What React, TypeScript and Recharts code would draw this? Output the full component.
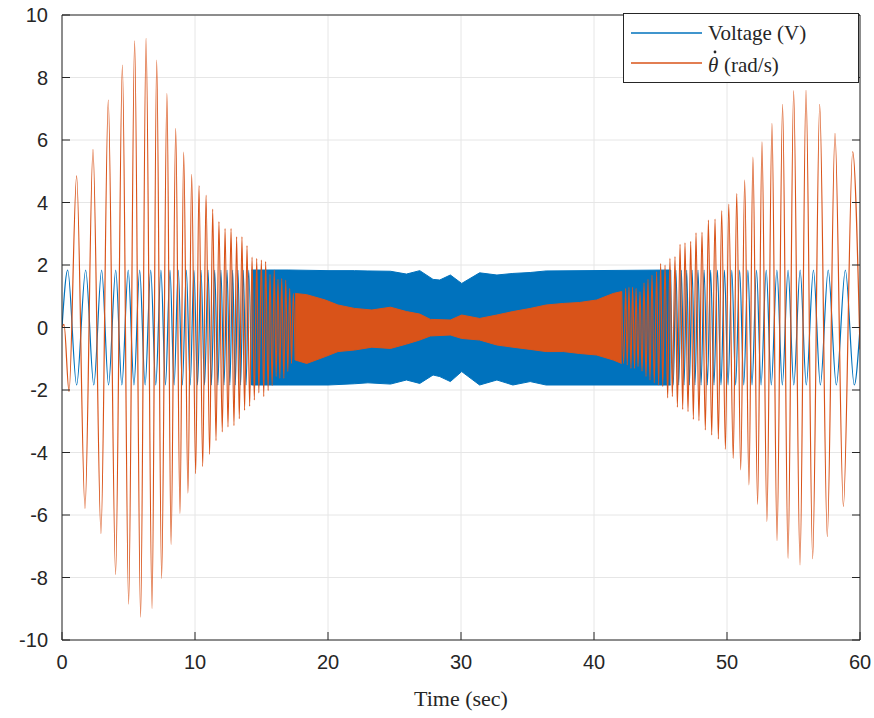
import { Area, CartesianGrid, ComposedChart, Legend, Line, XAxis, YAxis } from "recharts";

const BLUE = "#0072BD";
const ORANGE = "#D95319";
const AXIS = "#262626";

const xTicks = [0, 10, 20, 30, 40, 50, 60];
const yTicks = [-10, -8, -6, -4, -2, 0, 2, 4, 6, 8, 10];

// Voltage: resolved oscillation peaks at the start (sec, V)
const voltageStartTimes = [
  0, 0.43, 1.1, 1.78, 2.39, 2.98, 3.5, 4.04, 4.5, 4.98, 5.41, 5.84, 6.25, 6.67, 7.05, 7.44, 7.78,
  8.12, 8.43, 8.74, 9.05, 9.35, 9.64, 9.92, 10.19, 10.45, 10.72, 10.98, 11.23, 11.48, 11.72, 11.95,
  12.18, 12.41, 12.62, 12.83, 13.03, 13.23, 13.43, 13.63, 13.84, 14.04, 14.24,
];
const voltageStartValues = [
  0, 1.84, -1.84, 1.84, -1.84, 1.84, -1.84, 1.84, -1.84, 1.84, -1.84, 1.84, -1.84, 1.84, -1.84, 1.84,
  -1.84, 1.84, -1.84, 1.84, -1.84, 1.84, -1.84, 1.84, -1.84, 1.84, -1.84, 1.84, -1.84, 1.84, -1.84,
  1.84, -1.84, 1.84, -1.84, 1.84, -1.84, 1.84, -1.84, 1.84, -1.84, 1.84, -1.84,
];

// Voltage: dense middle part, envelope only
const voltageBandTimes = [
  14.24, 17, 20, 22, 23, 24.7, 25.9, 26.9, 27.9, 28.4, 29.2, 30.05, 31.4, 32.7, 33.9, 35.2, 36.4, 45.76,
];
const voltageBandHigh = [
  1.84, 1.84, 1.82, 1.82, 1.81, 1.8, 1.71, 1.82, 1.54, 1.52, 1.68, 1.41, 1.75, 1.68, 1.73, 1.76, 1.81, 1.84,
];
const voltageBandLow = [
  -1.84, -1.84, -1.84, -1.8, -1.77, -1.81, -1.68, -1.79, -1.52, -1.57, -1.73, -1.41, -1.84, -1.68, -1.84,
  -1.73, -1.84, -1.84,
];

// Voltage: resolved peaks at the end
const voltageEndTimes = [
  45.76, 45.96, 46.16, 46.37, 46.57, 46.77, 46.97, 47.17, 47.38, 47.59, 47.82, 48.05, 48.28, 48.52,
  48.77, 49.02, 49.28, 49.55, 49.81, 50.08, 50.36, 50.65, 50.95, 51.26, 51.57, 51.88, 52.22, 52.56,
  52.95, 53.33, 53.75, 54.16, 54.59, 55.02, 55.5, 55.96, 56.5, 57.02, 57.61, 58.22, 58.9, 59.57, 60,
];
const voltageEndValues = [
  1.84, -1.84, 1.84, -1.84, 1.84, -1.84, 1.84, -1.84, 1.84, -1.84, 1.84, -1.84, 1.84, -1.84, 1.84,
  -1.84, 1.84, -1.84, 1.84, -1.84, 1.84, -1.84, 1.84, -1.84, 1.84, -1.84, 1.84, -1.84, 1.84, -1.84,
  1.84, -1.84, 1.84, -1.84, 1.84, -1.84, 1.84, -1.84, 1.84, -1.84, 1.84, -1.84, 0,
];

// Angular velocity: resolved peaks at the start (sec, rad/s)
const rateStartTimes = [
  0, 0.15, 0.53, 1.1, 1.73, 2.33, 2.93, 3.48, 4.03, 4.54, 5.01, 5.46, 5.91, 6.32, 6.77, 7.12, 7.49,
  7.89, 8.2, 8.55, 8.87, 9.15, 9.47, 9.75, 10.05, 10.3, 10.58, 10.83, 11.1, 11.33, 11.58, 11.8, 12.05,
  12.26, 12.48, 12.71, 12.93, 13.13, 13.33, 13.53, 13.73, 13.91, 14.11, 14.29, 14.46, 14.64, 14.8,
  14.99, 15.17, 15.31, 15.5, 15.64, 15.8, 15.96, 16.1, 16.24, 16.38, 16.52, 16.68, 16.82, 16.98,
  17.12, 17.26, 17.39, 17.53,
];
const rateStartValues = [
  0, 0.1, -2.05, 4.85, -5.79, 5.7, -6.59, 7.28, -7.9, 8.4, -8.85, 9.17, -9.27, 9.25, -8.99, 8.56,
  -8.03, 7.49, -6.94, 6.37, -5.95, 5.61, -5.3, 4.9, -4.68, 4.54, -4.45, 4.24, -4.06, 3.79, -3.62, 3.39,
  -3.34, 3.17, -3.18, 3.17, -3.14, 2.9, -2.92, 2.9, -2.65, 2.62, -2.52, 2.25, -2.32, 2.21, -2.09,
  2.16, -2.21, 2.11, -2.02, 1.7, -1.86, 1.84, -1.57, 1.54, -1.63, 1.57, -1.63, 1.52, -1.41,
  1.25, -1.15, 1.09, -1.04,
];

// Angular velocity: dense middle part, envelope only
const rateBandTimes = [
  17.53, 18.4, 19.8, 20.75, 22, 23.3, 24.7, 25.9, 26.9, 27.7, 29.2, 30.05, 31.4, 32.7, 33.9, 35.2,
  36.4, 37.7, 38.9, 40.2, 41.45, 42.08,
];
const rateBandHigh = [
  1.09, 1.05, 0.88, 0.72, 0.61, 0.56, 0.65, 0.51, 0.43, 0.26, 0.24, 0.4, 0.29, 0.4, 0.51, 0.61,
  0.72, 0.77, 0.8, 0.88, 1.09, 1.15,
];
const rateBandLow = [
  -1.04, -1.15, -0.93, -0.77, -0.72, -0.63, -0.67, -0.53, -0.4, -0.27, -0.24, -0.35, -0.4, -0.56,
  -0.63, -0.7, -0.77, -0.77, -0.83, -0.88, -1.04, -1.15,
];

// Angular velocity: resolved peaks at the end
const rateEndTimes = [
  42.08, 42.23, 42.38, 42.5, 42.63, 42.78, 42.9, 43.05, 43.16, 43.31, 43.46, 43.61, 43.76, 43.91,
  44.06, 44.21, 44.36, 44.53, 44.71, 44.86, 45.01, 45.17, 45.34, 45.54, 45.71, 45.89, 46.09, 46.27,
  46.47, 46.67, 46.84, 47.07, 47.27, 47.47, 47.67, 47.89, 48.12, 48.37, 48.6, 48.85, 49.1, 49.35,
  49.6, 49.88, 50.13, 50.47, 50.73, 51.03, 51.33, 51.65, 51.95, 52.3, 52.63, 53.0, 53.38, 53.76,
  54.18, 54.59, 55.01, 55.49, 55.94, 56.44, 56.97, 57.54, 58.12, 58.75, 59.45, 60,
];
const rateEndValues = [
  1.15, -1.15, 1.25, -1.2, 1.29, -1.31, 1.29, -1.31, 1.25, -1.25, 1.15, -1.4, 1.43, -1.57,
  1.54, -1.68, 1.68, -1.77, 1.79, -1.84, 2.05, -1.89, 2.0, -2.25, 2.21, -2.21, 2.27, -2.55,
  2.66, -2.62, 2.71, -2.69, 2.76, -2.94, 3.03, -2.98, 3.05, -3.28, 3.44, -3.44, 3.47, -3.57,
  3.74, -3.9, 3.95, -4.19, 4.29, -4.56, 4.72, -5.04, 5.45, -5.66, 5.94, -6.21, 6.53, -6.82,
  7.14, -7.39, 7.58, -7.6, 7.6, -7.4, 7.14, -6.69, 6.21, -5.73, 5.63, -0.7,
];

const toPoints = (ts: number[], vs: number[]) => ts.map((t, i) => ({ t, v: vs[i] }));
const toBand = (ts: number[], hi: number[], lo: number[]) =>
  ts.map((t, i) => ({ t, range: [lo[i], hi[i]] }));

const voltageStart = toPoints(voltageStartTimes, voltageStartValues);
const voltageBand = toBand(voltageBandTimes, voltageBandHigh, voltageBandLow);
const voltageEnd = toPoints(voltageEndTimes, voltageEndValues);
const rateStart = toPoints(rateStartTimes, rateStartValues);
const rateBand = toBand(rateBandTimes, rateBandHigh, rateBandLow);
const rateEnd = toPoints(rateEndTimes, rateEndValues);

const serif = "'Liberation Serif', 'DejaVu Serif', serif";
const sans = "'Liberation Sans', Arial, sans-serif";

const noTick = () => <g />;

function LegendBox() {
  return (
    <svg width={236} height={70} style={{ display: "block" }}>
      <rect x={0.5} y={0.5} width={235} height={69} fill="#fff" stroke={AXIS} strokeWidth={1} />
      <line x1={8} x2={79} y1={20} y2={20} stroke={BLUE} strokeWidth={1.3} />
      <text x={85} y={27} fontFamily={serif} fontSize={21} fill={AXIS}>
        Voltage (V)
      </text>
      <line x1={8} x2={79} y1={50} y2={50} stroke={ORANGE} strokeWidth={1.3} />
      <text x={85} y={59} fontFamily={serif} fontSize={21} fill={AXIS}>
        <tspan fontStyle="italic">θ</tspan>
        <tspan x={101}>(rad/s)</tspan>
      </text>
      <circle cx={92} cy={39} r={1.4} fill={AXIS} />
    </svg>
  );
}

export default function App() {
  return (
    <div style={{ position: "absolute", left: 0, top: 0, background: "#fff" }}>
      <ComposedChart width={874} height={718} margin={{ top: 0, right: 0, bottom: 0, left: 0 }}>
        <CartesianGrid stroke="#e6e6e6" strokeWidth={1} />
        <XAxis
          dataKey="t"
          type="number"
          domain={[0, 60]}
          ticks={xTicks}
          allowDataOverflow
          height={78}
          tickSize={-8}
          tickMargin={23}
          tickLine={{ stroke: AXIS }}
          axisLine={{ stroke: AXIS }}
          tick={{ fill: AXIS, fontSize: 20, fontFamily: sans }}
          label={{
            value: "Time (sec)",
            position: "insideBottom",
            offset: 12,
            fill: AXIS,
            fontSize: 22,
            fontFamily: serif,
          }}
        />
        <XAxis
          xAxisId="top"
          orientation="top"
          type="number"
          domain={[0, 60]}
          ticks={xTicks}
          allowDataOverflow
          height={15}
          tickSize={-8}
          tickLine={{ stroke: AXIS }}
          axisLine={{ stroke: AXIS }}
          tick={noTick}
        />
        <YAxis
          type="number"
          domain={[-10, 10]}
          ticks={yTicks}
          allowDataOverflow
          width={62}
          tickSize={-8}
          tickMargin={22}
          tickLine={{ stroke: AXIS }}
          axisLine={{ stroke: AXIS }}
          tick={{ fill: AXIS, fontSize: 20, fontFamily: sans }}
        />
        <YAxis
          yAxisId="right"
          orientation="right"
          type="number"
          domain={[-10, 10]}
          ticks={yTicks}
          allowDataOverflow
          width={14}
          tickSize={-8}
          tickLine={{ stroke: AXIS }}
          axisLine={{ stroke: AXIS }}
          tick={noTick}
        />
        <Line data={voltageStart} dataKey="v" type="monotone" stroke={BLUE} strokeWidth={1.2} dot={false} isAnimationActive={false} />
        <Area data={voltageBand} dataKey="range" type="linear" stroke={BLUE} strokeWidth={1} fill={BLUE} fillOpacity={1} isAnimationActive={false} />
        <Line data={voltageEnd} dataKey="v" type="monotone" stroke={BLUE} strokeWidth={1.2} dot={false} isAnimationActive={false} />
        <Line data={rateStart} dataKey="v" type="monotone" stroke={ORANGE} strokeWidth={1.2} dot={false} isAnimationActive={false} />
        <Area data={rateBand} dataKey="range" type="linear" stroke={ORANGE} strokeWidth={1} fill={ORANGE} fillOpacity={1} isAnimationActive={false} />
        <Line data={rateEnd} dataKey="v" type="monotone" stroke={ORANGE} strokeWidth={1.2} dot={false} isAnimationActive={false} />
        <Legend
          layout="horizontal"
          verticalAlign="middle"
          align="center"
          wrapperStyle={{ left: 623, top: 13, width: 236, height: 70 }}
          content={() => <LegendBox />}
        />
      </ComposedChart>
    </div>
  );
}
